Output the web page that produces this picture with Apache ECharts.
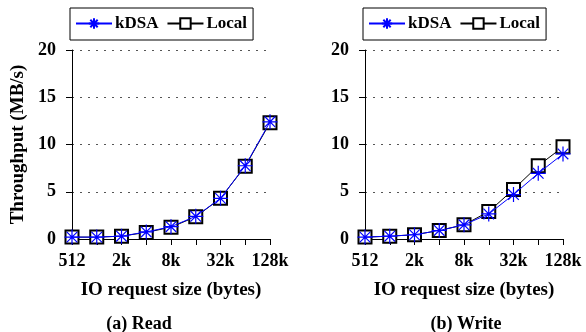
<!DOCTYPE html>
<html>
<head>
<meta charset="utf-8">
<script src="https://cdn.jsdelivr.net/npm/echarts@6/dist/echarts.min.js"></script>
<style>
  html, body { margin: 0; padding: 0; background: #fff; }
  #chart { width: 586px; height: 332px; }
</style>
</head>
<body>
<div id="chart"></div>
<script>
// IO request sizes on the x axis
var sizes = ['512', '1k', '2k', '4k', '8k', '16k', '32k', '64k', '128k'];

// Throughput (MB/s) for reads
var readKDSA  = [0.2, 0.2, 0.3, 0.75, 1.3, 2.4, 4.3, 7.75, 12.4];
var readLocal = [0.2, 0.2, 0.3, 0.7, 1.25, 2.35, 4.3, 7.7, 12.3];

// Throughput (MB/s) for writes
var writeKDSA  = [0.2, 0.3, 0.45, 0.9, 1.5, 2.65, 4.7, 6.95, 9.0];
var writeLocal = [0.2, 0.3, 0.45, 0.9, 1.5, 2.9, 5.25, 7.75, 9.75];

var panelTitles = ['(a) Read', '(b) Write'];
var seriesNames = ['kDSA', 'Local'];

var FONT = 'Liberation Serif';
var BLUE = '#0000ff';
var asterisk = 'path://M0,-10L0,10M-10,0L10,0M-7.07,-7.07L7.07,7.07M-7.07,7.07L7.07,-7.07';

var panels = [
  { left: 72, kdsa: readKDSA, local: readLocal, yName: 'Throughput (MB/s)', titleX: 139 },
  { left: 365, kdsa: writeKDSA, local: writeLocal, yName: '', titleX: 466 }
];

var grids = [], xAxes = [], yAxes = [], series = [], legends = [], titles = [];

panels.forEach(function (p, i) {
  grids.push({ left: p.left, top: 50, width: 198, height: 189, containLabel: false });

  xAxes.push({
    type: 'category', gridIndex: i, data: sizes, boundaryGap: false,
    name: 'IO request size (bytes)', nameLocation: 'middle', nameGap: 42,
    nameTextStyle: { fontFamily: FONT, fontWeight: 'bold', fontSize: 19, color: '#000' },
    axisLine: { lineStyle: { color: '#000', width: 1 } },
    axisTick: { show: true, interval: 0, length: 6, lineStyle: { color: '#000' } },
    axisLabel: { interval: 1, margin: 13, fontFamily: FONT, fontWeight: 'bold', fontSize: 18, color: '#000' },
    splitLine: { show: false }
  });

  yAxes.push({
    type: 'value', gridIndex: i, min: 0, max: 20, interval: 5,
    name: p.yName, nameLocation: 'middle', nameGap: 44, nameRotate: 90,
    nameTextStyle: { fontFamily: FONT, fontWeight: 'bold', fontSize: 19, color: '#000' },
    axisLine: { show: true, lineStyle: { color: '#000', width: 1 } },
    axisTick: { show: true, length: 6, lineStyle: { color: '#000' } },
    axisLabel: { margin: 16, fontFamily: FONT, fontWeight: 'bold', fontSize: 18, color: '#000' },
    splitLine: { show: true, lineStyle: { color: '#555', width: 1, type: [2, 6] } }
  });

  // Local first so the kDSA markers sit on top
  series.push({
    name: 'Local', type: 'line', xAxisIndex: i, yAxisIndex: i, data: p.local,
    symbol: 'emptyRect', symbolSize: 13, showAllSymbol: true,
    lineStyle: { color: '#000', width: 1 },
    itemStyle: { color: '#000', borderColor: '#000', borderWidth: 1 },
    emphasis: { disabled: true }, animation: false, z: 2
  });
  series.push({
    name: 'kDSA', type: 'line', xAxisIndex: i, yAxisIndex: i, data: p.kdsa,
    symbol: asterisk, symbolSize: 15, showAllSymbol: true,
    lineStyle: { color: BLUE, width: 1 },
    itemStyle: { color: BLUE, borderColor: BLUE, borderWidth: 1.2 },
    emphasis: { disabled: true }, animation: false, z: 3
  });

  legends.push({
    data: seriesNames, left: p.left - 2, top: 8,
    orient: 'horizontal', itemWidth: 36, itemHeight: 13, itemGap: 8,
    padding: [7, 6, 8, 5], borderColor: '#000', borderWidth: 1,
    selectedMode: false,
    textStyle: { fontFamily: FONT, fontWeight: 'bold', fontSize: 17, color: '#000', padding: [0, 0, 0, -2] }
  });

  titles.push({
    text: panelTitles[i], left: p.titleX, top: 315, textAlign: 'center',
    textStyle: { fontFamily: FONT, fontWeight: 'bold', fontSize: 18, color: '#000' },
    padding: 0
  });
});

var chart = echarts.init(document.getElementById('chart'), null, { renderer: 'canvas' });
chart.setOption({
  animation: false,
  backgroundColor: '#fff',
  title: titles,
  legend: legends,
  grid: grids,
  xAxis: xAxes,
  yAxis: yAxes,
  series: series
});
</script>
</body>
</html>
